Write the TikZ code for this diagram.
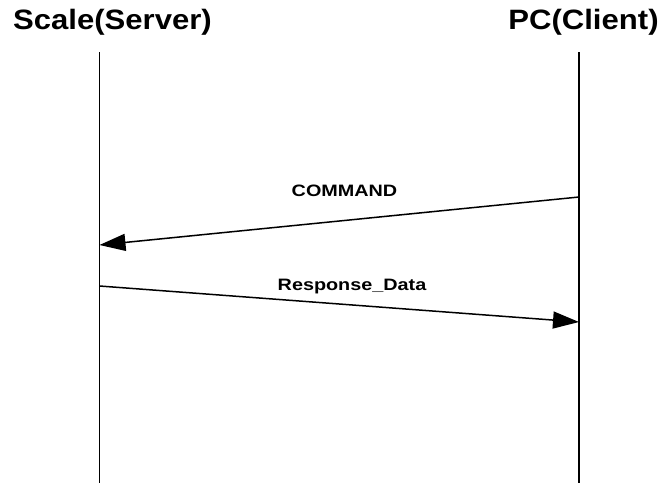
\documentclass[tikz,border=0pt]{standalone}
\usepackage{fontspec}
\setmainfont{Liberation Sans}
\usetikzlibrary{arrows.meta}

\begin{document}
\begin{tikzpicture}[x=1pt,y=-1pt,
    title/.style={anchor=base,inner sep=0pt,font=\fontsize{28}{28}\selectfont\bfseries},
    msglabel/.style={anchor=base,inner sep=0pt,font=\fontsize{16.5}{16.5}\selectfont\bfseries},
    lifeline/.style={line width=1.5pt},
    msg/.style={line width=1.5pt,-{Triangle[length=26pt,width=17pt]}}]
      \useasboundingbox (0,0) rectangle (662,483);
      % participants
      \node[title] (server) at (112.5,29.5) {\scalebox{1.11}[1]{Scale(Server)}};
      \node[title] (client) at (583.5,29.5) {\scalebox{1.11}[1]{PC(Client)}};
      \coordinate (servertop) at (99.5,52);
      \coordinate (serverbot) at (99.5,483);
      \coordinate (clienttop) at (579,52);
      \coordinate (clientbot) at (579,483);
      \draw[lifeline] (servertop)--(serverbot);
      \draw[lifeline] (clienttop)--(clientbot);
      % messages
      \coordinate (cmdstart) at (579,197);
      \coordinate (cmdend) at (99.5,245);
      \coordinate (respstart) at (99.5,286);
      \coordinate (respend) at (579,322);
      \draw[msg] (cmdstart)--(cmdend);
      \draw[msg] (respstart)--(respend);
      \node[msglabel] (cmd) at (344.5,196.7) {\scalebox{1.2}[1]{COMMAND}};
      \node[msglabel] (resp) at (352,290.7) {\scalebox{1.2}[1]{Response\_Data}};
    \end{tikzpicture}
\end{document}
